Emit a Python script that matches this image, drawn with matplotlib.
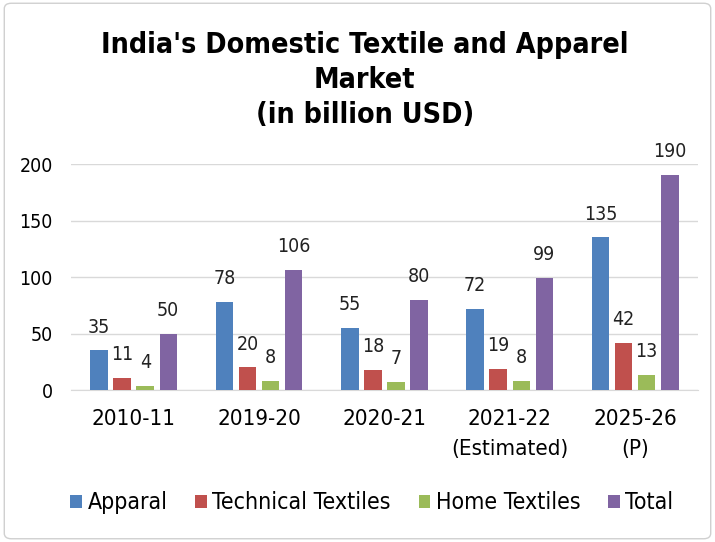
import numpy as np
import matplotlib.pyplot as plt
from matplotlib.patches import FancyBboxPatch

# Data
categories = ['2010-11', '2019-20', '2020-21', '2021-22\n(Estimated)', '2025-26\n(P)']
apparel = [35, 78, 55, 72, 135]
technical = [11, 20, 18, 19, 42]
home = [4, 8, 7, 8, 13]
total = [50, 106, 80, 99, 190]

series = [
    ('Apparal', apparel, '#4F81BD'),
    ('Technical Textiles', technical, '#C0504D'),
    ('Home Textiles', home, '#9BBB59'),
    ('Total', total, '#8064A2'),
]

plt.rcParams['font.family'] = ['DejaVu Sans']
plt.rcParams['font.stretch'] = 'condensed'

fig = plt.figure(figsize=(7.15, 5.42), dpi=100)
ax = fig.add_axes([0.0993, 0.2804, 0.8767, 0.417])

x = np.arange(len(categories))
step = 0.184
width = 0.14

for i, (name, vals, color) in enumerate(series):
    pos = x + (i - 1.5) * step
    bars = ax.bar(pos, vals, width=width, color=color, label=name, zorder=3)
    for b, v in zip(bars, vals):
        ax.annotate(str(v), (b.get_x() + b.get_width() / 2, v),
                    xytext=(0, 10), textcoords='offset points',
                    ha='center', va='bottom', fontsize=14, color='#222222')

ax.set_xlim(-0.5, len(categories) - 0.5)
ax.set_ylim(0, 200)
ax.set_yticks([0, 50, 100, 150, 200])
ax.set_xticks(x)
ax.set_xticklabels(categories, fontsize=16, linespacing=1.6)
ax.tick_params(axis='y', labelsize=14, length=0, pad=13)
ax.tick_params(axis='x', length=0, pad=14)
ax.grid(axis='y', color='#D9D9D9', linewidth=1, zorder=0)
for s in ['top', 'right', 'left']:
    ax.spines[s].set_visible(False)
ax.spines['bottom'].set_color('#D9D9D9')

fig.text(0.51, 0.942, "India's Domestic Textile and Apparel\nMarket\n(in billion USD)",
         ha='center', va='top', fontsize=20.5, fontweight='bold', linespacing=1.3)

fig.legend(loc='center', bbox_to_anchor=(0.52, 0.072), ncol=4, frameon=False,
           fontsize=16.6, handlelength=0.5, handleheight=0.5, handletextpad=0.25,
           columnspacing=1.2)

border = FancyBboxPatch((0.006, 0.006), 0.988, 0.988, boxstyle='round,pad=0,rounding_size=0.01',
                        transform=fig.transFigure, fill=False, edgecolor='#D0D0D0', linewidth=1)
fig.patches.append(border)

fig.savefig('out.png', dpi=100)
